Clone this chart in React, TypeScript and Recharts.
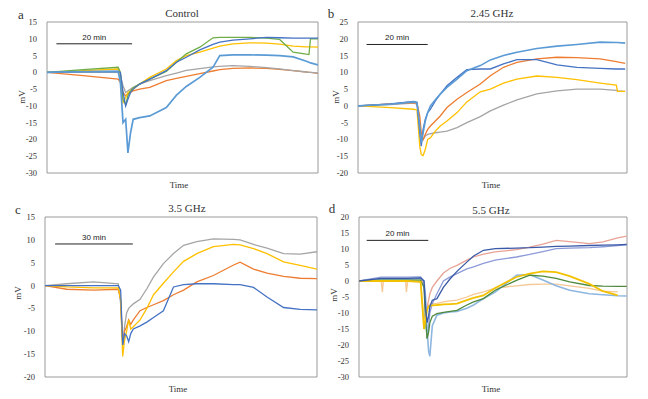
import React from "react";
import { LineChart, Line, XAxis, YAxis, ReferenceArea, ReferenceLine } from "recharts";

// panel a - Control (time in min)
const aTime = [0, 9.6, 18.9, 19.5, 20.2, 20.9, 21.5, 22.2, 22.9, 24.6, 27.3, 31.7, 34.4, 37.0, 40.6, 44.1, 45.9, 49.4, 53.9, 58.3, 61.8, 65.4, 68.9, 69.6, 70.0, 72.0];
const aGreen = [0, 0.8, 1.5, 0, -8, -9.7, -7, -5.5, -4.6, -3.5, -2, 0.3, 3, 5.5, 7.5, 10.3, 10.4, 10.4, 10.4, 10.2, 9.8, 6, 5.4, 5.3, 10, 10];
const aDarkBlue = [0, 0.2, 0.3, 0, -6, -10, -8, -6, -5, -3.5, -2, 0.5, 3, 4.5, 6.7, 8.3, 9, 9.6, 10, 10.4, 10.3, 10.2, 10.2, 10.2, 10.2, 10.2];
const aYellow = [0, 0.5, 1, -2, -9, -7.5, -6, -5.5, -5, -3.5, -1.5, 1, 3.5, 5, 6, 7.2, 7.8, 8.5, 8.8, 8.7, 8.4, 7.8, 7.6, 7.6, 7.6, 7.5];
const aGray = [0, 0, 0, -1, -4, -6, -5.5, -5, -4.5, -3.5, -2.5, -1, -0.2, 0.6, 1.1, 1.6, 1.8, 2, 1.8, 1.4, 1, 0.5, 0.1, 0, 0, -0.2];
const aOrange = [0, -1, -2, -3, -6, -7, -6.5, -6, -5.5, -5, -4.5, -2.5, -1.8, -1.2, -0.4, 0.4, 0.8, 1.2, 1.3, 1.2, 0.9, 0.5, 0.1, 0, 0, -0.3];
const aLightBlue = [0, 0.2, 0.3, -3, -15, -14, -24, -18, -14, -13.5, -13, -10.5, -6.8, -4.2, -1.5, 1.5, 5, 5.2, 5.2, 5.1, 5, 4.6, 3.3, 3, 2.8, 2.2];

// panel b - 2.45 GHz
const bTime = [0, 10.6, 18.2, 19.3, 20.2, 20.7, 21.3, 22.0, 22.8, 23.7, 25.3, 26.9, 29.1, 32.4, 35.6, 40.0, 43.3, 47.6, 52.0, 58.5, 65.1, 71.6, 79.2, 84.5, 84.9, 87.4];
const bLightBlue = [0, 0.5, 1.2, 1, -6, -11, -8, -4.5, -2, 0, 1.8, 3.5, 5.5, 8, 10.5, 12, 13.7, 15, 16, 17.1, 17.8, 18.3, 19, 18.9, 18.9, 18.7];
const bDarkBlue = [0, 0.6, 1.3, 1, -8, -12, -7, -4, -2, -1, 1.5, 3.5, 6, 8.5, 10.8, 11, 11, 12.5, 13.8, 13.8, 12.2, 11.5, 11.2, 11, 11, 11];
const bOrange = [0, 0.6, 1, 0.8, -3, -8, -10, -8.5, -7, -6, -4.5, -3, -0.5, 2, 4, 6.5, 9, 11.5, 13, 14, 14.5, 14.4, 14, 13.2, 13.1, 12.7];
const bYellow = [0, -0.5, -1, -1.2, -12, -14.5, -14.8, -13, -10, -9.5, -7.5, -6, -4.5, -2, 1.2, 4.2, 5, 6.8, 8, 8.9, 8.5, 7.8, 6.8, 6.2, 4.3, 4.3];
const bGray = [0, 0.4, 0.8, 0.5, -6, -9.5, -10, -9, -8.5, -8.3, -8, -7.8, -7.5, -6.5, -5, -3.2, -1.5, 0.2, 1.8, 3.6, 4.5, 5, 5, 4.6, 4.5, 4.3];

// panel c - 3.5 GHz
const cTime = [0, 8.4, 18.7, 28.3, 29.2, 30.0, 30.7, 31.5, 32.3, 33.1, 34.1, 36.7, 39.3, 41.9, 45.7, 49.6, 53.5, 58.6, 65.0, 72.8, 75.3, 80.5, 85.7, 92.1, 98.5, 105.0];
const cGray = [0, 0.4, 0.8, 0.4, -4, -13, -9, -6, -5, -4.5, -4, -3, -0.7, 1.9, 4.8, 7, 8.8, 9.6, 10.2, 10.1, 10, 9, 8.2, 7, 6.9, 7.4];
const cYellow = [0, -0.3, -0.5, -0.5, -3, -15.5, -12, -10, -7.5, -9.5, -9, -7.5, -5, -2, 0.5, 3, 5.3, 7, 8.5, 9, 8.9, 8.1, 7, 5.2, 4.4, 3.6];
const cOrange = [0, -0.8, -1, -0.8, -3, -13, -10, -9, -7.5, -8.5, -7.5, -5.5, -4.8, -4.2, -3.3, -2, -1, 0.8, 2.2, 4.5, 5.1, 3.6, 2.7, 2, 1.6, 1.5];
const cDarkBlue = [0, 0, 0, 0, -1, -13, -10.5, -11, -12.3, -10.5, -9.5, -8.8, -8, -7, -5.5, -0.3, 0.2, 0.4, 0.4, 0.2, 0.2, -0.4, -2.5, -4.8, -5.2, -5.3];

// panel d - 5.5 GHz
const dTime = [0, 7.2, 7.6, 7.9, 15.1, 15.4, 15.8, 20.0, 21.1, 21.6, 22.1, 22.6, 23.0, 23.8, 25.3, 27.4, 29.6, 31.8, 35.0, 37.2, 40.4, 44.2, 51.1, 55.4, 59.7, 64.0, 68.4, 74.8, 79.2, 84.0, 86.9];
const dDarkBlue = [0, 0.8, 0.8, 0.8, 0.8, 0.8, 0.8, 1, 0, -8, -13, -11, -8, -6, -5.5, -2, 0.7, 3, 5.9, 7.8, 9.6, 10.1, 10.3, 10.4, 10.6, 10.8, 10.9, 11.1, 11.2, 11.3, 11.4];
const dSalmon = [0, 0.5, 0.5, 0.5, 0.5, 0.5, 0.5, 0.8, -1, -9, -8, -6, -4, -2, 0, 2.5, 4, 4.9, 6.5, 7.5, 8.4, 9.1, 9.8, 10.6, 11.5, 12.7, 12.3, 11.7, 12.2, 13.5, 14];
const dLavender = [0, 1.2, 1.2, 1.2, 1.2, 1.2, 1.2, 1.3, 0, -10, -18, -14, -10, -7, -4, 0, 1.3, 2.3, 3.8, 4.4, 5.5, 6.5, 7.5, 8.3, 9.2, 10.1, 10.3, 10.4, 10.7, 11.1, 11.4];
const dCyan = [0, 0.5, 0.5, 0.5, 0.5, 0.5, 0.5, 0.8, 0, -5, -15, -22, -23.5, -14, -10.7, -10, -9.7, -9.5, -8.5, -7.5, -5.5, -3.5, 1.8, 2, 0.3, -1.5, -2.9, -4, -4.3, -4.6, -4.7];
const dGreen = [0, 0.3, 0.3, 0.3, 0.3, 0.3, 0.3, 0.3, -2, -12, -18, -16, -13, -11, -10.2, -9.8, -9.5, -9.2, -7.5, -6.5, -5.5, -2.9, 0.2, 1.8, 1.5, 0.8, -0.3, -1.4, -1.6, -1.7, -1.7];
const dYellow = [0, 0, 0, 0, 0, 0, 0, -0.3, -15, -12, -9, -8, -7.8, -7.6, -7.5, -7.3, -7.2, -7.1, -6, -5.3, -4.5, -2.2, 1.25, 2.3, 3, 2.8, 1.5, -0.9, -3.2, -4.5, null];
const dPeach = [0, 0, -3.5, 0, 0, -3.5, 0, -0.3, -12, -10, -8, -7.5, -7.2, -7.1, -7, -6.5, -6.2, -6, -5, -4.2, -3.4, -2.2, -1.5, -1.1, -1, -1, -1.5, -2.3, -3.2, -3.4, null];

const aTicks = [-30, -25, -20, -15, -10, -5, 0, 5, 10, 15];
const bTicks = [-20, -15, -10, -5, 0, 5, 10, 15, 20, 25];
const cTicks = [-20, -15, -10, -5, 0, 5, 10, 15];
const dTicks = [-30, -25, -20, -15, -10, -5, 0, 5, 10, 15, 20];

const serif = "'Liberation Serif', 'Times New Roman', serif";
const ink = "#333";

type S = { name: string; values: (number | null)[]; color: string; width?: number };

function Panel(props: {
  left: number; top: number; width: number; height: number;
  margin: { top: number; right: number; bottom: number; left: number };
  time: number[]; series: S[]; ticks: number[]; tEnd: number;
  bar: { t0: number; t1: number; v: number; label: string };
}) {
  const { time, series, ticks, tEnd, bar } = props;
  const rows = time.map((t, i) => {
    const r: Record<string, number | null> = { t };
    series.forEach((s) => (r[s.name] = s.values[i]));
    return r;
  });
  const yMin = ticks[0];
  const yMax = ticks[ticks.length - 1];
  return (
    <div style={{ position: "absolute", left: props.left, top: props.top }}>
      <LineChart width={props.width} height={props.height} data={rows} margin={props.margin}>
        <XAxis dataKey="t" type="number" domain={[0, tEnd]} hide allowDataOverflow />
        <YAxis
          type="number"
          domain={[yMin, yMax]}
          ticks={ticks}
          interval={0}
          width={30}
          axisLine={false}
          tickLine={false}
          tickMargin={4}
          tick={{ fontSize: 8.5, fontFamily: serif, fill: ink }}
        />
        <ReferenceArea x1={0} x2={tEnd} y1={yMin} y2={yMax} fill="none" stroke="#9a9a9a" strokeWidth={1} />
        <ReferenceLine
          segment={[{ x: bar.t0, y: bar.v }, { x: bar.t1, y: bar.v }]}
          stroke="#222"
          strokeWidth={1}
          label={{ value: bar.label, position: "top", offset: 4, fontSize: 8, fill: "#222", fontFamily: "'Liberation Sans', Arial, sans-serif" }}
        />
        {series.map((s) => (
          <Line
            key={s.name}
            type="linear"
            dataKey={s.name}
            stroke={s.color}
            strokeWidth={s.width ?? 1.3}
            dot={false}
            isAnimationActive={false}
          />
        ))}
      </LineChart>
    </div>
  );
}

function Txt(props: { x: number; y: number; size: number; children: React.ReactNode; rotate?: boolean }) {
  return (
    <div
      style={{
        position: "absolute",
        left: props.x,
        top: props.y,
        transform: `translate(-50%, -50%)${props.rotate ? " rotate(-90deg)" : ""}`,
        fontFamily: serif,
        fontSize: props.size,
        fontWeight: 400,
        color: ink,
        whiteSpace: "nowrap",
        lineHeight: 1,
      }}
    >
      {props.children}
    </div>
  );
}

export default function App() {
  return (
    <div style={{ position: "absolute", left: 0, top: 0, width: 648, height: 399, background: "#fff", overflow: "hidden" }}>
      <Panel
        left={0} top={0} width={324} height={200}
        margin={{ top: 22, right: 6, bottom: 27, left: 17 }}
        time={aTime} ticks={aTicks} tEnd={72}
        bar={{ t0: 2.5, t1: 22.6, v: 8.5, label: "20 min" }}
        series={[
          { name: "orange", values: aOrange, color: "#ED7D31" },
          { name: "gray", values: aGray, color: "#A5A5A5" },
          { name: "yellow", values: aYellow, color: "#FFC000" },
          { name: "green", values: aGreen, color: "#70AD47" },
          { name: "darkBlue", values: aDarkBlue, color: "#4472C4" },
          { name: "lightBlue", values: aLightBlue, color: "#5B9BD5", width: 1.7 },
        ]}
      />
      <Panel
        left={324} top={0} width={324} height={200}
        margin={{ top: 22, right: 21, bottom: 27, left: 4 }}
        time={bTime} ticks={bTicks} tEnd={88}
        bar={{ t0: 2.8, t1: 22.8, v: 18.3, label: "20 min" }}
        series={[
          { name: "gray", values: bGray, color: "#A5A5A5" },
          { name: "yellow", values: bYellow, color: "#FFC000" },
          { name: "orange", values: bOrange, color: "#ED7D31" },
          { name: "darkBlue", values: bDarkBlue, color: "#4472C4" },
          { name: "lightBlue", values: bLightBlue, color: "#5B9BD5", width: 1.6 },
        ]}
      />
      <Panel
        left={0} top={200} width={324} height={199}
        margin={{ top: 17, right: 7, bottom: 22, left: 15 }}
        time={cTime} ticks={cTicks} tEnd={105}
        bar={{ t0: 3.9, t1: 33.9, v: 9.1, label: "30 min" }}
        series={[
          { name: "gray", values: cGray, color: "#A5A5A5" },
          { name: "orange", values: cOrange, color: "#ED7D31" },
          { name: "yellow", values: cYellow, color: "#FFC000" },
          { name: "darkBlue", values: cDarkBlue, color: "#4472C4" },
        ]}
      />
      <Panel
        left={324} top={200} width={324} height={199}
        margin={{ top: 17, right: 21, bottom: 22, left: 5 }}
        time={dTime} ticks={dTicks} tEnd={87}
        bar={{ t0: 2.5, t1: 22.5, v: 12.7, label: "20 min" }}
        series={[
          { name: "peach", values: dPeach, color: "#F5C896" },
          { name: "salmon", values: dSalmon, color: "#E8A395" },
          { name: "lavender", values: dLavender, color: "#8C9BD8" },
          { name: "cyan", values: dCyan, color: "#8DB6E0", width: 1.6 },
          { name: "green", values: dGreen, color: "#4F8A3C" },
          { name: "yellow", values: dYellow, color: "#F2C200", width: 1.8 },
          { name: "darkBlue", values: dDarkBlue, color: "#3A5AA8" },
        ]}
      />

      <Txt x={21} y={14} size={13}>a</Txt>
      <Txt x={182} y={13} size={11}>Control</Txt>
      <Txt x={22} y={97} size={9} rotate>mV</Txt>
      <Txt x={179} y={185} size={9}>Time</Txt>

      <Txt x={331} y={13} size={13}>b</Txt>
      <Txt x={492} y={13} size={11}>2.45 GHz</Txt>
      <Txt x={336} y={97} size={9} rotate>mV</Txt>
      <Txt x={491} y={185} size={9}>Time</Txt>

      <Txt x={18} y={209} size={13}>c</Txt>
      <Txt x={187} y={208} size={11}>3.5 GHz</Txt>
      <Txt x={18} y={293} size={9} rotate>mV</Txt>
      <Txt x={178} y={389} size={9}>Time</Txt>

      <Txt x={332} y={208} size={13}>d</Txt>
      <Txt x={491} y={210} size={11}>5.5 GHz</Txt>
      <Txt x={334} y={295} size={9} rotate>mV</Txt>
      <Txt x={491} y={389} size={9}>Time</Txt>
    </div>
  );
}
